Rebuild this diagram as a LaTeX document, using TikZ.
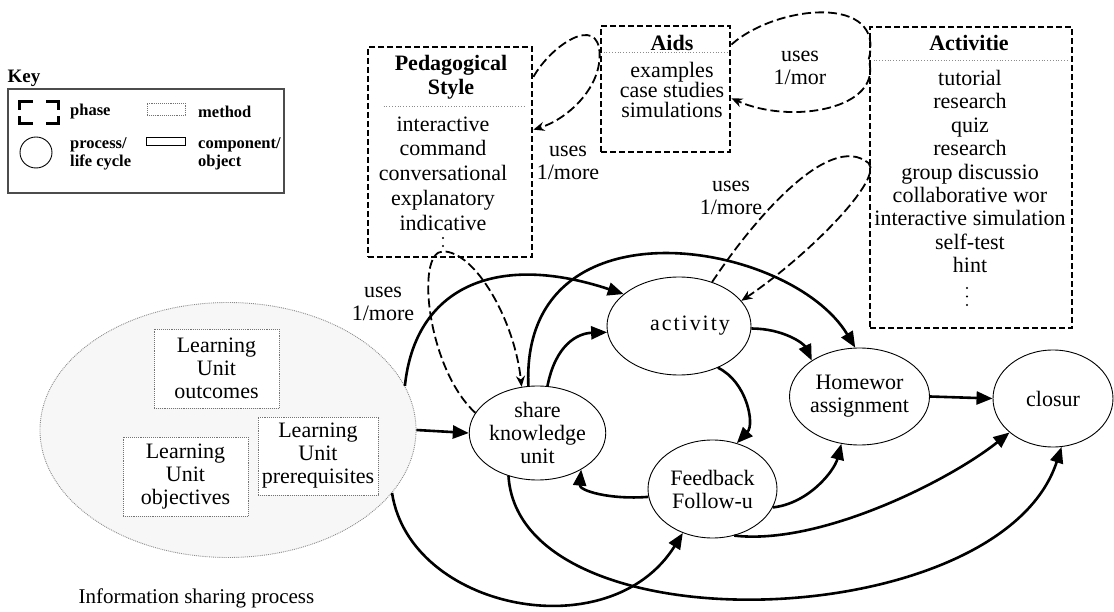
\documentclass[tikz,border=0pt]{standalone}
\usepackage{fontspec}
\setmainfont{Liberation Serif}
\newfontfamily\spacedserif[LetterSpace=9]{Liberation Serif}
\usepackage{tikz}
\usetikzlibrary{
	shapes.geometric,
	positioning,
	arrows.meta
}

\newcommand{\bodysize}{\fontsize{22}{23}\selectfont}
\newcommand{\keysize}{\fontsize{16.5}{18}\selectfont\bfseries}

\tikzset{
	process/.style={ellipse,draw,line width=0.9pt,inner sep=0pt,align=center,font=\bodysize},
	phasebox/.style={draw,line width=2.8pt,dash pattern=on 6pt off 3pt,inner sep=0pt},
	methodbox/.style={draw=black!55,densely dotted,line width=0.9pt,fill=white,inner sep=0pt,align=center,font=\bodysize},
	itemlist/.style={inner sep=0pt,align=center,font=\bodysize},
	boxtitle/.style={inner sep=0pt,align=center,font=\fontsize{22}{24}\selectfont\bfseries},
	separator/.style={draw=black!45,dotted,line width=0.8pt},
	flow/.style={line width=2.6pt,-{Triangle[length=16pt,width=13pt]}},
	uses/.style={line width=1.8pt,dash pattern=on 9pt off 4pt,-{Stealth[length=11pt,width=9pt]}},
	keytext/.style={anchor=west,inner sep=0pt,align=left,font=\keysize}
}

\begin{document}
\begin{tikzpicture}[x=1pt,y=-1pt]
	\useasboundingbox (0,0) rectangle (1114,612);

	% key
	\node [draw=black!70,line width=1.2pt,minimum width=276pt,minimum height=104pt] (key) at (146,141) {};
	\node [inner sep=0pt,font=\fontsize{19}{19}\selectfont\bfseries,above right=2pt and 0pt of key.north west] (keyname) {Key};
	\node [minimum width=38pt,minimum height=21pt,inner sep=0pt] (keyphase) at (39,112.5) {};
	\draw [line width=3pt] ([yshift=-8pt]keyphase.north west) |- ([xshift=13pt]keyphase.north west);
	\draw [line width=3pt] ([xshift=-12pt]keyphase.north east) -| ([yshift=-8pt]keyphase.north east);
	\draw [line width=3pt] ([yshift=7pt]keyphase.south west) |- ([xshift=13pt]keyphase.south west);
	\draw [line width=3pt] ([xshift=-12pt]keyphase.south east) -| ([yshift=7pt]keyphase.south east);
	\node [keytext] (keyphasetxt) at (70,112) {phase};
	\node [methodbox,minimum width=38pt,minimum height=12pt] (keymethod) at (166,109) {};
	\node [keytext] (keymethodtxt) at (198,112) {method};
	\node [process,minimum width=32pt,minimum height=31pt] (keyproc) at (36,152.5) {};
	\node [keytext] (keyproctxt) at (70,154) {process/\\life cycle};
	\node [draw,line width=0.9pt,minimum width=39pt,minimum height=8pt,inner sep=0pt] (keycomp) at (165.5,141) {};
	\node [keytext] (keycomptxt) at (198,154) {component/\\object};

	% information sharing process
	\node [ellipse,draw=black!45,densely dotted,line width=0.9pt,fill=black!3,minimum width=376pt,minimum height=255pt] (infoshare) at (228,430) {};
	\node [methodbox,minimum width=125pt,minimum height=79pt] (outcomes) at (216.5,368.5) {Learning\\Unit\\outcomes};
	\node [methodbox,minimum width=125pt,minimum height=79pt] (objectives) at (185.5,476.5) {Learning\\Unit\\objectives};
	\node [methodbox,minimum width=120pt,minimum height=78pt] (prereq) at (318,456) {Learning\\Unit\\prerequisites};
	\node [itemlist,font=\fontsize{21}{21}\selectfont] (infocap) at (196.5,598) {Information sharing process};

	% phases
	\node [phasebox,minimum width=164pt,minimum height=210pt] (ped) at (450,152) {};
	\node [boxtitle] (pedtitle) at (451,77) {Pedagogical\\Style};
	\draw [separator] ([xshift=17pt,yshift=-61pt]ped.north west) -- ([xshift=-9pt,yshift=-61pt]ped.north east);
	\node [itemlist,font=\fontsize{22}{24.75}\selectfont] (pedlist) at (443,173.5) {interactive\\command\\conversational\\explanatory\\indicative};
	\coordinate (peddots) at (443,238);
	\foreach \dy in {0,8}
		\fill ([yshift=-\dy pt]peddots) circle (1.2pt);

	\node [phasebox,minimum width=129pt,minimum height=126pt] (aids) at (665.5,89) {};
	\node [boxtitle] (aidstitle) at (672,43) {Aids};
	\draw [separator] ([xshift=4pt,yshift=-28pt]aids.north west) -- ([xshift=-2pt,yshift=-28pt]aids.north east);
	\node [itemlist,font=\fontsize{22}{20}\selectfont] (aidslist) at (672,90) {examples\\case studies\\simulations};

	\node [phasebox,minimum width=202pt,minimum height=301pt] (actbox) at (971,177.5) {};
	\node [boxtitle] (acttitle) at (969,43) {Activitie};
	\draw [separator] ([xshift=5pt,yshift=-35pt]actbox.north west) -- ([xshift=-4pt,yshift=-35pt]actbox.north east);
	\node [itemlist,font=\fontsize{22}{23.4}\selectfont] (actlist) at (970,171.5) {tutorial\\research\\quiz\\research\\group discussio\\collaborative wor\\interactive simulation\\self-test\\hint};
	\coordinate (actdots) at (967,288);
	\foreach \dy in {0,8.5,17}
		\fill ([yshift=-\dy pt]actdots) circle (1.2pt);

	% life cycle
	\draw
		node [process,minimum width=129pt,minimum height=94pt] (share) at (537.5,433) {share\\knowledge\\unit}
		node [process,minimum width=128pt,minimum height=98pt,font=\bodysize\spacedserif] (activity) at (679,326) {\hspace*{22pt}activity}
		node [process,minimum width=129pt,minimum height=98pt] (feedback) at (712.5,489) {Feedback\\Follow-u}
		node [process,minimum width=133pt,minimum height=97pt] (homework) at (859.5,396.5) {Homewor\\assignment}
		node [process,minimum width=120pt,minimum height=97pt] (closur) at (1053,398.5) {closur}

		(infoshare.east) edge [flow] (share.west)
		(homework.east) edge [flow] (closur.west)
	;
	\draw [flow] (infoshare.14) .. controls +(10,-97) and +(-130,-43) .. (activity.150);
	\draw [flow] (share.101) .. controls +(-8,-191) and +(-65,-108) .. (homework.95);
	\draw [flow] (share.78) .. controls +(8,-41) and +(-30,1) .. (activity.185);
	\draw [flow] (activity.358) .. controls +(32,0) and +(-8,-17) .. (homework.143);
	\draw [flow] (activity.313) .. controls +(29,14) and +(18,-19) .. (feedback.62);
	\draw [flow] (feedback.187) .. controls +(-39,3) and +(-2,21) .. (share.320);
	\draw [flow] (feedback.343) .. controls +(36,-4) and +(-7,27) .. (homework.249);
	\draw [flow] (feedback.295) .. controls +(86,10) and +(-60,48) .. (closur.218);
	\draw [flow] (share.236) .. controls +(11,175) and +(-61,188) .. (closur.280);
	\draw [flow] (infoshare.339) .. controls +(18,117) and +(-73,117) .. (feedback.236);

	% uses 1/more
	\coordinate (pedfoot) at ([shift={(-7,-7)}]ped.south);
	\draw [uses] (ped.42) .. controls +(18,-32) and +(-1,-40) .. (aids.152) .. controls +(1,35) and +(33,-10) .. (ped.15);
	\draw [uses] (aids.34) .. controls +(45,-40) and +(18,-66) .. (actbox.131) .. controls +(15,49) and +(60,27) .. (aids.352);
	\draw [uses] (activity.53) .. controls +(39,-59) and +(-40,-33) .. (actbox.172) .. controls +(15,17) and +(64,-43) .. (activity.22);
	\draw [uses] (share.162) .. controls +(-48,-44) and +(-28,0) .. (pedfoot) .. controls +(32,0) and +(-7,-67) .. (share.109);

	\node [itemlist] (uses1) at (568,163) {uses\\1/more};
	\node [itemlist] (uses2) at (800,68) {uses\\1/mor};
	\node [itemlist] (uses3) at (731,198) {uses\\1/more};
	\node [itemlist] (uses4) at (383,304) {uses\\1/more};
\end{tikzpicture}
\end{document}
